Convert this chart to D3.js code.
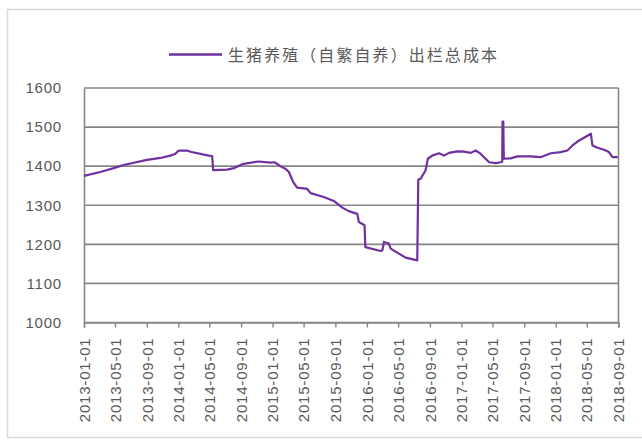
<!DOCTYPE html>
<html>
<head>
<meta charset="utf-8">
<script src="https://cdn.jsdelivr.net/npm/d3@7"></script>
<style>
  body { margin: 0; background: #fff; }
  svg { display: block; }
</style>
</head>
<body>
<svg id="chart" width="642" height="441"></svg>
<script>
// series name and data
var seriesName = "生猪养殖（自繁自养）出栏总成本";

var dates = [
  "2013-01-01","2013-03-05","2013-04-26","2013-06-03","2013-09-02","2013-10-24",
  "2013-12-01","2013-12-21","2014-01-03","2014-02-04","2014-02-17","2014-04-29",
  "2014-05-12","2014-05-16","2014-07-09","2014-08-04","2014-09-11","2014-11-08",
  "2014-12-24","2015-01-08","2015-02-01","2015-02-20","2015-03-05","2015-03-11",
  "2015-03-22","2015-04-06","2015-05-15","2015-05-28","2015-07-18","2015-08-26",
  "2015-09-28","2015-10-23","2015-11-25","2015-12-01","2015-12-23","2015-12-26",
  "2016-02-23","2016-03-01","2016-03-07","2016-03-26","2016-04-02","2016-05-30",
  "2016-07-14","2016-07-18","2016-07-27","2016-08-15","2016-08-24","2016-09-10",
  "2016-10-06","2016-10-25","2016-11-14","2016-12-16","2017-01-11","2017-02-06",
  "2017-02-25","2017-03-16","2017-04-18","2017-05-14","2017-06-02","2017-06-08",
  "2017-06-09","2017-06-12","2017-06-14","2017-07-10","2017-08-06","2017-09-26",
  "2017-11-03","2017-12-13","2018-01-20","2018-02-15","2018-03-07","2018-03-26",
  "2018-05-04","2018-05-17","2018-05-23","2018-06-12","2018-07-07","2018-07-26",
  "2018-08-09","2018-08-29"
];

var costs = [
  1375,1385,1395,1403,1416,1421,
  1427,1432,1440,1440,1437,1427,
  1426,1390,1391,1395,1406,1412,
  1409,1410,1400,1393,1385,1376,
  1359,1345,1342,1331,1321,1311,
  1294,1285,1278,1257,1249,1193,
  1183,1185,1206,1202,1189,1166,
  1159,1366,1368,1389,1419,1427,
  1433,1427,1434,1438,1437,1434,
  1440,1432,1410,1408,1410,1412,
  1514,1514,1419,1420,1425,1425,
  1423,1433,1436,1440,1453,1463,
  1478,1483,1453,1447,1442,1436,
  1423,1423
];

var yTicks = [1000, 1100, 1200, 1300, 1400, 1500, 1600];
var xTickStart = "2013-01-01", xTickEnd = "2018-09-01";

var parse = d3.timeParse("%Y-%m-%d");
var data = dates.map(function(d, i){ return {date: parse(d), value: costs[i]}; });

var svg = d3.select("#chart");
var margin = {left: 84, right: 24, top: 88, bottom: 118};
var W = 642, H = 441;

// outer chart border (right edge runs off the picture)
svg.append("rect")
    .attr("x", 7.5).attr("y", 9.5)
    .attr("width", 660).attr("height", 428)
    .style("fill", "none")
    .style("stroke", "#d9d9d9")
    .style("stroke-width", 1.5);

var x = d3.scaleTime()
    .domain([parse(xTickStart), parse(xTickEnd)])
    .range([margin.left, W - margin.right + 0.5]);
var y = d3.scaleLinear()
    .domain([1000, 1600])
    .range([322.5, 88]);

var axisColor = "#868686", textColor = "#595959";
var numFont = "'Liberation Sans', Arial, sans-serif";

// horizontal gridlines
svg.append("g").selectAll("line")
    .data(yTicks)
    .enter().append("line")
    .attr("x1", x.range()[0]).attr("x2", x.range()[1])
    .attr("y1", function(d){ return y(d); })
    .attr("y2", function(d){ return y(d); })
    .style("stroke", axisColor)
    .style("stroke-width", 1.6);

// right border of plot
svg.append("line")
    .attr("x1", x.range()[1]).attr("x2", x.range()[1])
    .attr("y1", y(1600)).attr("y2", y(1000))
    .style("stroke", axisColor).style("stroke-width", 1.6);

// y axis
var yAxis = svg.append("g")
    .attr("transform", `translate(${x.range()[0]},0)`)
    .call(d3.axisLeft(y).tickValues(yTicks).tickSize(0).tickPadding(22).tickFormat(d3.format("d")));
yAxis.select(".domain").style("stroke", axisColor).style("stroke-width", 1.6);
yAxis.selectAll("text")
    .style("font-family", numFont)
    .style("font-size", "15px")
    .style("letter-spacing", "0.8px")
    .style("fill", textColor);

// x axis with 4-month ticks
var xTicks = d3.timeMonth.every(4).range(parse(xTickStart), d3.timeDay.offset(parse(xTickEnd), 1));
var xAxis = svg.append("g")
    .attr("transform", `translate(0,${y(1000)})`)
    .call(d3.axisBottom(x).tickValues(xTicks).tickSize(5).tickFormat(d3.timeFormat("%Y-%m-%d")));
xAxis.select(".domain").style("stroke", axisColor).style("stroke-width", 1.6);
xAxis.selectAll(".tick line").style("stroke", axisColor).style("stroke-width", 1.4);
xAxis.selectAll("text")
    .attr("transform", "rotate(-90)")
    .attr("x", -15)
    .attr("y", 0)
    .attr("dy", "0.35em")
    .style("text-anchor", "end")
    .style("font-family", numFont)
    .style("font-size", "15px")
    .style("letter-spacing", "0.8px")
    .style("fill", textColor);

// the cost line
var line = d3.line()
    .x(function(d){ return x(d.date); })
    .y(function(d){ return y(d.value); });

svg.append("path")
    .datum(data)
    .attr("d", line)
    .style("fill", "none")
    .style("stroke", "#7030a0")
    .style("stroke-width", 2.2)
    .style("stroke-linejoin", "round");

// legend at top
var legend = svg.append("g");
legend.append("line")
    .attr("x1", 169).attr("x2", 222)
    .attr("y1", 54.5).attr("y2", 54.5)
    .style("stroke", "#7030a0")
    .style("stroke-width", 2.5);
legend.append("text")
    .attr("x", 228).attr("y", 55.5)
    .attr("dy", "0.35em")
    .attr("textLength", 269)
    .attr("lengthAdjust", "spacing")
    .style("font-family", "'Noto Sans CJK SC', sans-serif")
    .style("font-size", "16px")
    .style("fill", textColor)
    .text(seriesName);
</script>
</body>
</html>
